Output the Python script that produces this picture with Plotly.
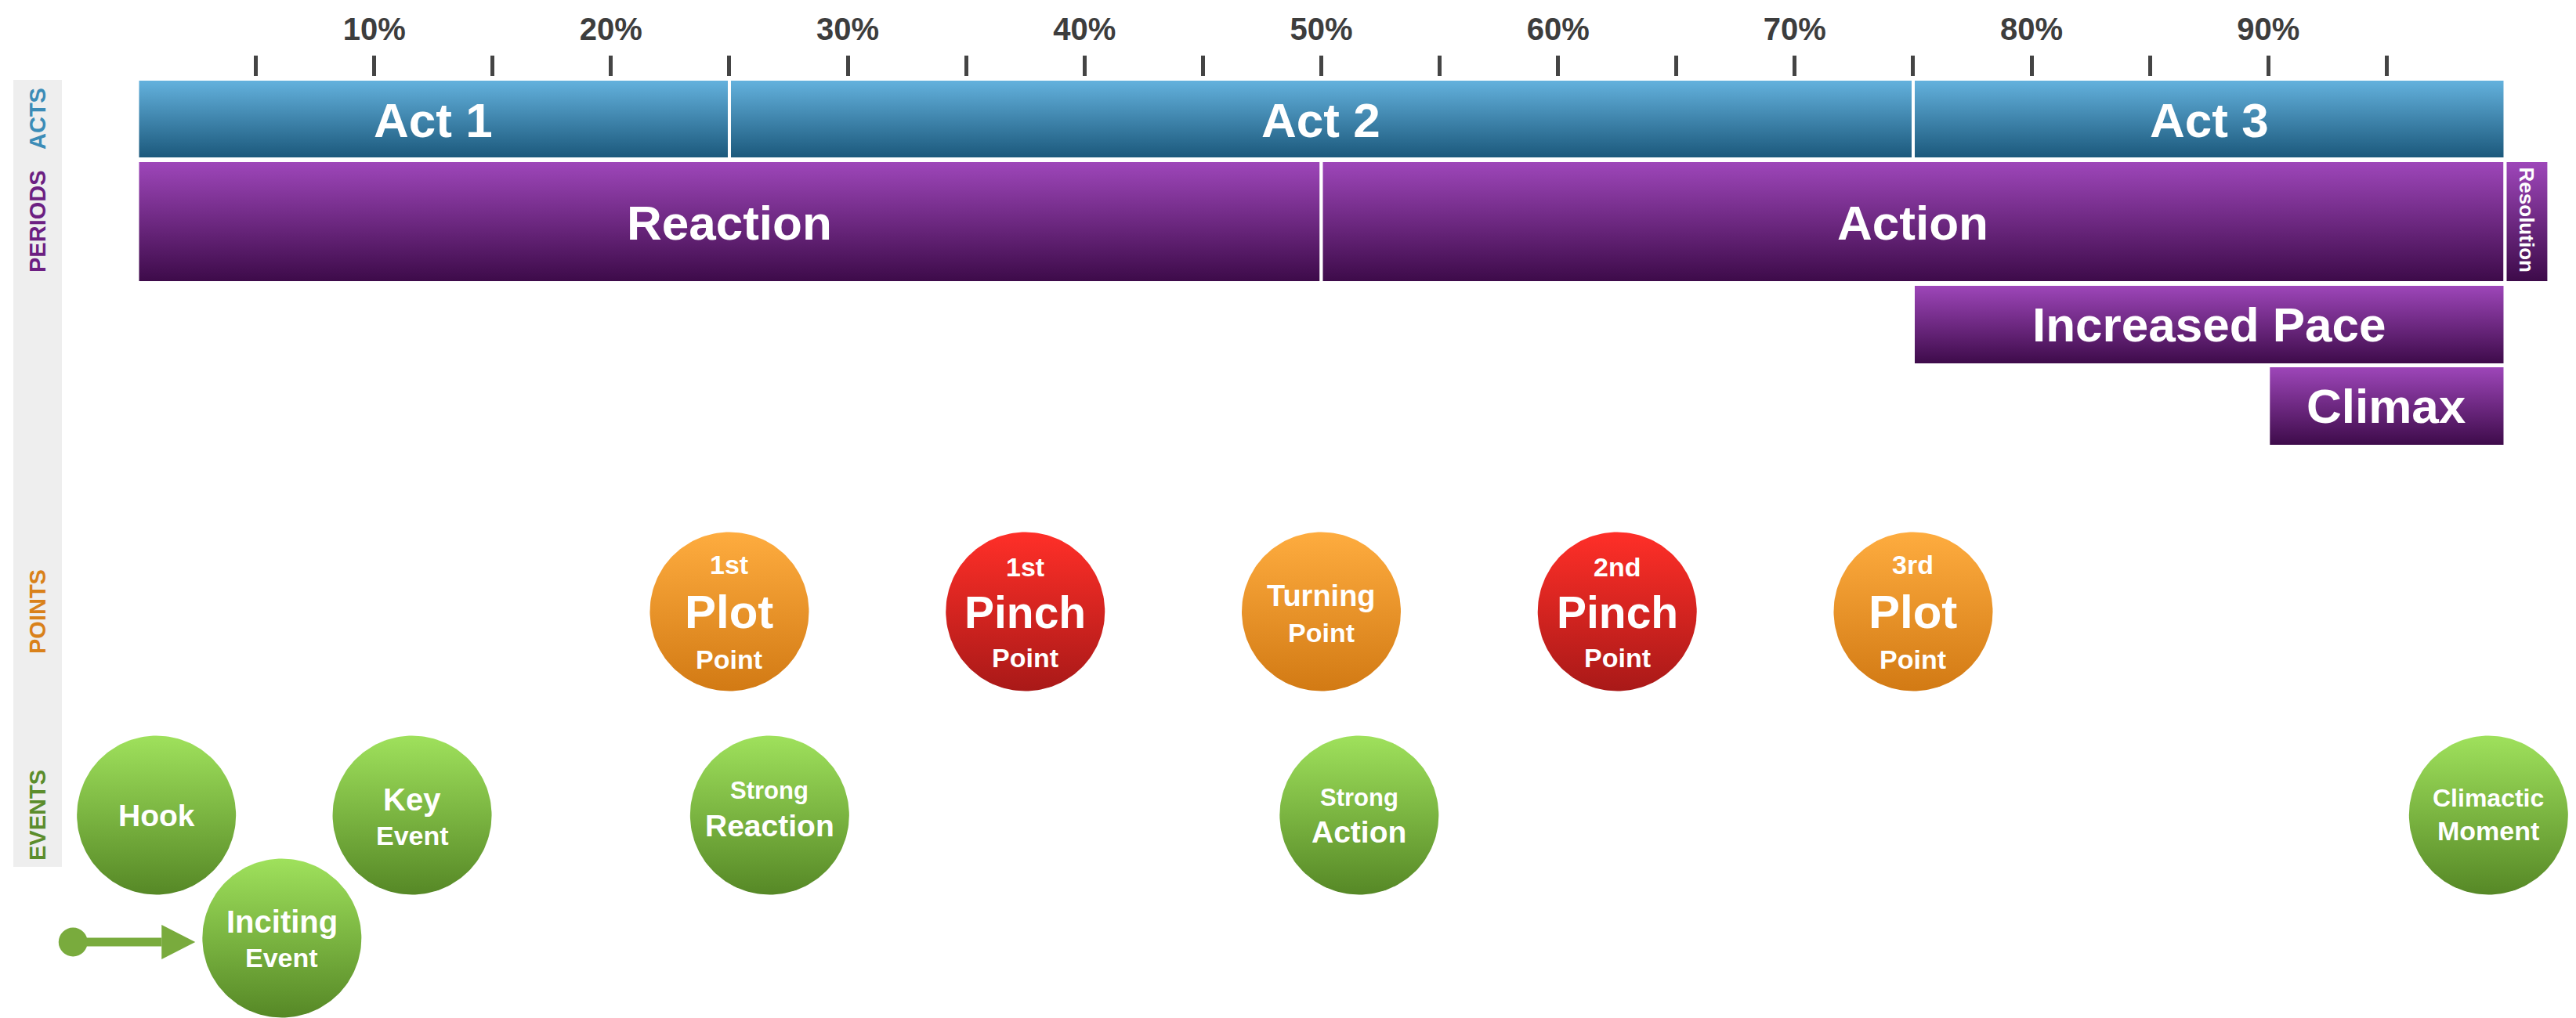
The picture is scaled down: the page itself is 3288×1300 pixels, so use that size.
import numpy as np
import plotly.graph_objects as go

# ------------------------------------------------------------------ data
tick_marks = [5, 10, 15, 20, 25, 30, 35, 40, 45, 50, 55, 60, 65, 70, 75, 80, 85, 90, 95]
tick_labels = ["", "10%", "", "20%", "", "30%", "", "40%", "", "50%",
               "", "60%", "", "70%", "", "80%", "", "90%", ""]

act_names = ["Act 1", "Act 2", "Act 3"]
act_start = [0, 25, 75]
act_end = [25, 75, 100]

period_names = ["Reaction", "Action"]
period_start = [0, 50]
period_end = [50, 100]

resolution_name = "Resolution"
resolution_start = 100
resolution_end = 101.85

phase_names = ["Increased Pace", "Climax"]
phase_start = [75, 90]
phase_end = [100, 100]

point_pos = [25, 37.5, 50, 62.5, 75]
point_kind = ["plot", "pinch", "turning", "pinch", "plot"]
point_line1 = ["1st", "1st", "Turning", "2nd", "3rd"]
point_line2 = ["Plot", "Pinch", "Point", "Pinch", "Plot"]
point_line3 = ["Point", "Point", "", "Point", "Point"]

event_pos = [0.8, 6.1, 11.6, 26.7, 51.6, 99.3]
event_lane = [0, 1, 0, 0, 0, 0]
event_line1 = ["Hook", "Inciting", "Key", "Strong", "Strong", "Climactic"]
event_line2 = ["", "Event", "Event", "Reaction", "Action", "Moment"]

row_names = ["ACTS", "PERIODS", "POINTS", "EVENTS"]

# ------------------------------------------------------------------ layout / style
W, H = 3288, 1300
X_MIN, X_MAX = -5.807, 102.995
PX = W / (X_MAX - X_MIN)          # pixels per percent
TOP = 98                           # plot area top (tick marks end here)
FONT = "Liberation Sans, Arial, Helvetica, sans-serif"

# colorscales listed bottom -> top (gradient runs from low to high axis value)
BLUE = [[0, "#1a577a"], [1, "#65b3df"]]
PURPLE = [[0, "#3c0a48"], [1, "#9f47bb"]]
GREEN = [[0, "#568826"], [1, "#9fe15c"]]
ORANGE = [[0, "#d27a14"], [1, "#feac3f"]]
RED = [[0, "#a91918"], [1, "#ff2f28"]]
KIND_COLOR = {"plot": ORANGE, "turning": ORANGE, "pinch": RED}

ACT_Y = (101, 203)
PERIOD_Y = (205, 361)
PHASE_Y = [(363, 466), (467, 570)]
POINT_CY = 781
EVENT_CY = [1041, 1198]
R_PX = 101.5

# text styles (size, vertical offset in px) per line
POINT_STYLE = {
    "plot": [(34, -60), (60, 0), (34, 61)],
    "pinch": [(34, -57), (57, 1), (34, 59)],
    "turning": [(38, -20), (34, 27), (34, 0)],
}
EVENT_STYLE = [
    [(39, 0), (34, 0)],
    [(40, -21), (34, 25)],
    [(40, -20), (34, 26)],
    [(31, -32), (39, 13)],
    [(31, -23), (39, 21)],
    [(32, -22), (34, 20)],
]

fig = go.Figure()
annotations = []


def rect(x0, x1, y0, y1, scale):
    fig.add_trace(go.Scatter(
        x=[x0, x1, x1, x0, x0], y=[y0, y0, y1, y1, y0],
        mode="lines", fill="toself",
        fillgradient=dict(type="vertical", colorscale=scale),
        line=dict(color="white", width=4),
        hoverinfo="skip", showlegend=False))


def circle(cx, cy, scale):
    t = np.linspace(0, 2 * np.pi, 161)
    fig.add_trace(go.Scatter(
        x=cx + (R_PX / PX) * np.cos(t), y=cy + R_PX * np.sin(t),
        mode="lines", fill="toself",
        fillgradient=dict(type="vertical", colorscale=scale),
        line=dict(width=0, color="rgba(0,0,0,0)"),
        hoverinfo="skip", showlegend=False))


def label(x, y, text, size, color="white", angle=0, xref="x"):
    annotations.append(dict(
        x=x, y=y, xref=xref, yref="y", text=text, showarrow=False,
        textangle=angle, xanchor="center", yanchor="middle",
        font=dict(family=FONT, size=size, color=color, weight="bold")))


# acts
for n, s, e in zip(act_names, act_start, act_end):
    rect(s, e, ACT_Y[0], ACT_Y[1], BLUE)
    label((s + e) / 2, 153, n, 62)

# periods
for n, s, e in zip(period_names, period_start, period_end):
    rect(s, e, PERIOD_Y[0], PERIOD_Y[1], PURPLE)
    label((s + e) / 2, 284, n, 62)
rect(resolution_start, resolution_end, PERIOD_Y[0], PERIOD_Y[1], PURPLE)
label((resolution_start + resolution_end) / 2, 281, resolution_name, 26, angle=90)

# phases
for (n, s, e), (y0, y1) in zip(zip(phase_names, phase_start, phase_end), PHASE_Y):
    rect(s, e, y0, y1, PURPLE)
    label((s + e) / 2, (y0 + y1) / 2, n, 62)

# points
for p, k, l1, l2, l3 in zip(point_pos, point_kind, point_line1, point_line2, point_line3):
    circle(p, POINT_CY, KIND_COLOR[k])
    for txt, (sz, off) in zip([l1, l2, l3], POINT_STYLE[k]):
        if txt:
            label(p, POINT_CY + off, txt, sz)

# arrow into the inciting event
inc = event_lane.index(1)
tip = event_pos[inc] - R_PX / PX - 0.3
start = tip - 156 / PX
ay = EVENT_CY[1] + 5
ARROW = "#79ab3d"
fig.add_trace(go.Scatter(x=[start, tip - 43 / PX], y=[ay, ay], mode="lines",
                         line=dict(color=ARROW, width=11),
                         hoverinfo="skip", showlegend=False))
fig.add_trace(go.Scatter(x=[start], y=[ay], mode="markers",
                         marker=dict(color=ARROW, size=37, line=dict(width=0)),
                         hoverinfo="skip", showlegend=False))
fig.add_trace(go.Scatter(x=[tip - 43 / PX, tip, tip - 43 / PX, tip - 43 / PX],
                         y=[ay - 22, ay, ay + 22, ay - 22], mode="lines",
                         fill="toself", fillcolor=ARROW, line=dict(width=0),
                         hoverinfo="skip", showlegend=False))

# events
for i, (p, lane, l1, l2) in enumerate(zip(event_pos, event_lane, event_line1, event_line2)):
    cy = EVENT_CY[lane]
    circle(p, cy, GREEN)
    for txt, (sz, off) in zip([l1, l2], EVENT_STYLE[i]):
        if txt:
            label(p, cy + off, txt, sz)

# row labels
row_y = [152, 283, 781, 1041]
row_col = ["#3c8cb7", "#6c1f82", "#d9811a", "#5b8d2c"]
for n, y, c in zip(row_names, row_y, row_col):
    label(48 / W, y, n, 29, color=c, angle=-90, xref="paper")

fig.update_layout(
    width=W, height=H, margin=dict(l=0, r=0, t=TOP, b=0),
    paper_bgcolor="white", plot_bgcolor="white",
    showlegend=False, annotations=annotations,
    shapes=[dict(type="rect", xref="paper", yref="y", x0=17 / W, x1=79 / W,
                 y0=102, y1=1107, fillcolor="#eeeeee", line=dict(width=0),
                 layer="below")],
    xaxis=dict(range=[X_MIN, X_MAX], side="top", showgrid=False, zeroline=False,
               showline=False, tickmode="array", tickvals=tick_marks,
               ticktext=tick_labels, ticks="outside", ticklen=26, tickwidth=4.5,
               tickcolor="#444444", ticklabelstandoff=4,
               tickfont=dict(family=FONT, size=40, color="#3d3d3d", weight="bold"),
               fixedrange=True),
    yaxis=dict(range=[H, TOP], visible=False, fixedrange=True),
)

fig.write_html("out.html", config={"displayModeBar": False},
               post_script="document.body.style.margin='0';document.body.style.overflow='hidden';")
